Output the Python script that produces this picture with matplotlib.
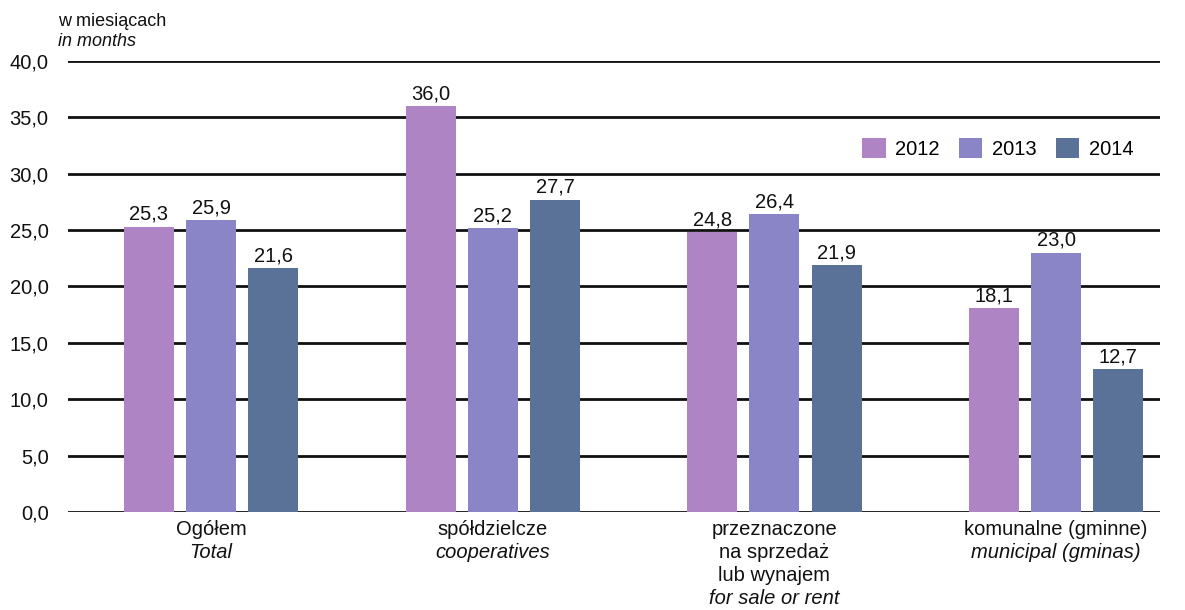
import numpy as np
import matplotlib.pyplot as plt
from matplotlib.transforms import blended_transform_factory, offset_copy

plt.rcParams['font.family'] = ['Liberation Sans', 'DejaVu Sans']

years = ['2012', '2013', '2014']
v2012 = [25.3, 36.0, 24.8, 18.1]
v2013 = [25.9, 25.2, 26.4, 23.0]
v2014 = [21.6, 27.7, 21.9, 12.7]
cat_pl = [['Ogółem'], ['spółdzielcze'], ['przeznaczone', 'na sprzedaż', 'lub wynajem'],
          ['komunalne (gminne)']]
cat_en = ['Total', 'cooperatives', 'for sale or rent', 'municipal (gminas)']
colors = ['#ae84c4', '#8a85c6', '#5a7298']
fs = 14.5

fig = plt.figure(figsize=(11.85, 6.1), dpi=100)
ax = fig.add_axes([0.0574, 0.1607, 0.9215, 0.7393])

x = np.arange(len(v2012))
w = 0.1775
step = 0.221
for i, (vals, c, yr) in enumerate(zip([v2012, v2013, v2014], colors, years)):
    bars = ax.bar(x + (i - 1) * step, vals, w, color=c, label=yr, zorder=3)
    for b, v in zip(bars, vals):
        ax.annotate(('%.1f' % v).replace('.', ','), (b.get_x() + b.get_width() / 2, v),
                    xytext=(0, 2), textcoords='offset points', ha='center', va='bottom',
                    fontsize=fs, color='#111111')

ax.set_ylim(0, 40)
ax.set_xlim(-0.508, 3.369)
ax.set_yticks(np.arange(0, 40.1, 5))
ax.set_yticklabels([('%.1f' % t).replace('.', ',') for t in np.arange(0, 40.1, 5)], fontsize=fs)
ax.tick_params(axis='y', length=0, pad=14, colors='#111111')
ax.set_xticks([])
ax.grid(axis='y', color='#111111', linewidth=2.0, zorder=0)
for s in ax.spines.values():
    s.set_visible(False)

trans = blended_transform_factory(ax.transData, ax.transAxes)
for i in range(len(x)):
    lines = [(t, 'normal') for t in cat_pl[i]] + [(cat_en[i], 'italic')]
    for j, (t, st) in enumerate(lines):
        tr = offset_copy(trans, fig=fig, x=0, y=-8 - 23 * j, units='dots')
        ax.text(x[i], 0, t, transform=tr, ha='center', va='top', fontsize=fs,
                style=st, color='#111111')

fig.text(58 / 1185, 1 - 13 / 610, 'w miesiącach', fontsize=13, va='top', color='#111111')
fig.text(58 / 1185, 1 - 33 / 610, 'in months', fontsize=13, va='top', style='italic', color='#111111')

ax.legend(loc='upper right', bbox_to_anchor=(0.992, 0.87), ncol=3, frameon=False, fontsize=fs,
          handlelength=1.15, handleheight=1.15, columnspacing=1.0, handletextpad=0.45)

fig.savefig('out.png', dpi=100)
